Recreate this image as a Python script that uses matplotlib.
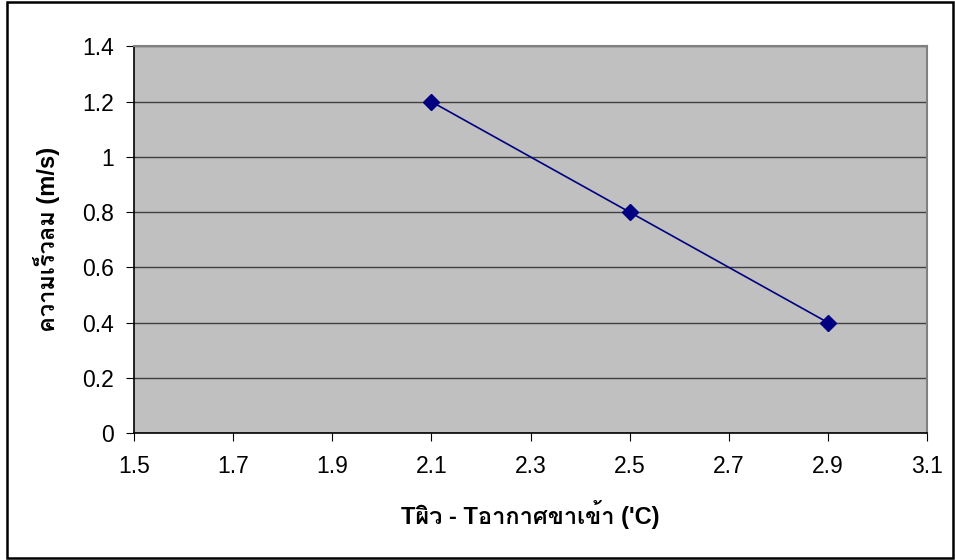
import matplotlib
matplotlib.use("Agg")
import matplotlib.pyplot as plt
from matplotlib.patches import Rectangle

# Datos
x_vals = [2.1, 2.5, 2.9]
y_vals = [1.2, 0.8, 0.4]
x_ticks = [1.5, 1.7, 1.9, 2.1, 2.3, 2.5, 2.7, 2.9, 3.1]
y_ticks = [0, 0.2, 0.4, 0.6, 0.8, 1.0, 1.2, 1.4]
x_label = "Tผิว - Tอากาศขาเข้า ('C)"
y_label = "ความเร็วลม (m/s)"

# Liberation Sans para latín, Loma para los caracteres tailandeses
plt.rcParams['font.family'] = ['Liberation Sans', 'Loma', 'DejaVu Sans']

fig = plt.figure(figsize=(9.55, 5.6), dpi=100)
ax = fig.add_axes([0.1403, 0.2268, 0.8304, 0.6902])
ax.set_facecolor("#c0c0c0")

ax.plot(x_vals, y_vals, color="#000080", linewidth=1.2, marker="D", markersize=8.5, zorder=3)

ax.set_xlim(1.5, 3.1)
ax.set_ylim(0, 1.4)
ax.set_xticks(x_ticks)
ax.set_xticklabels([f"{v:g}" for v in x_ticks])
ax.set_yticks(y_ticks)
ax.set_yticklabels([f"{v:g}" for v in y_ticks])
ax.yaxis.grid(True, color="#404040", linewidth=1)
ax.set_axisbelow(True)
ax.tick_params(labelsize=16.5, direction="out", length=5.5, color="black")
ax.tick_params(axis="x", pad=10)
ax.tick_params(axis="y", pad=9)

for side in ["top", "right"]:
    ax.spines[side].set_color("#808080")
    ax.spines[side].set_linewidth(1.5)
for side in ["left", "bottom"]:
    ax.spines[side].set_color("black")
    ax.spines[side].set_linewidth(1.2)

ax.set_xlabel(x_label, fontsize=17, fontweight="bold", labelpad=16)
ax.set_ylabel(y_label, fontsize=17, fontweight="bold", labelpad=16)

# Marco exterior
fig.patches.append(Rectangle((7 / 955, 2 / 560), 946 / 955, 556 / 560, transform=fig.transFigure,
                             fill=False, edgecolor="black", linewidth=1.8))

plt.savefig("out.png", dpi=100)
plt.close()
